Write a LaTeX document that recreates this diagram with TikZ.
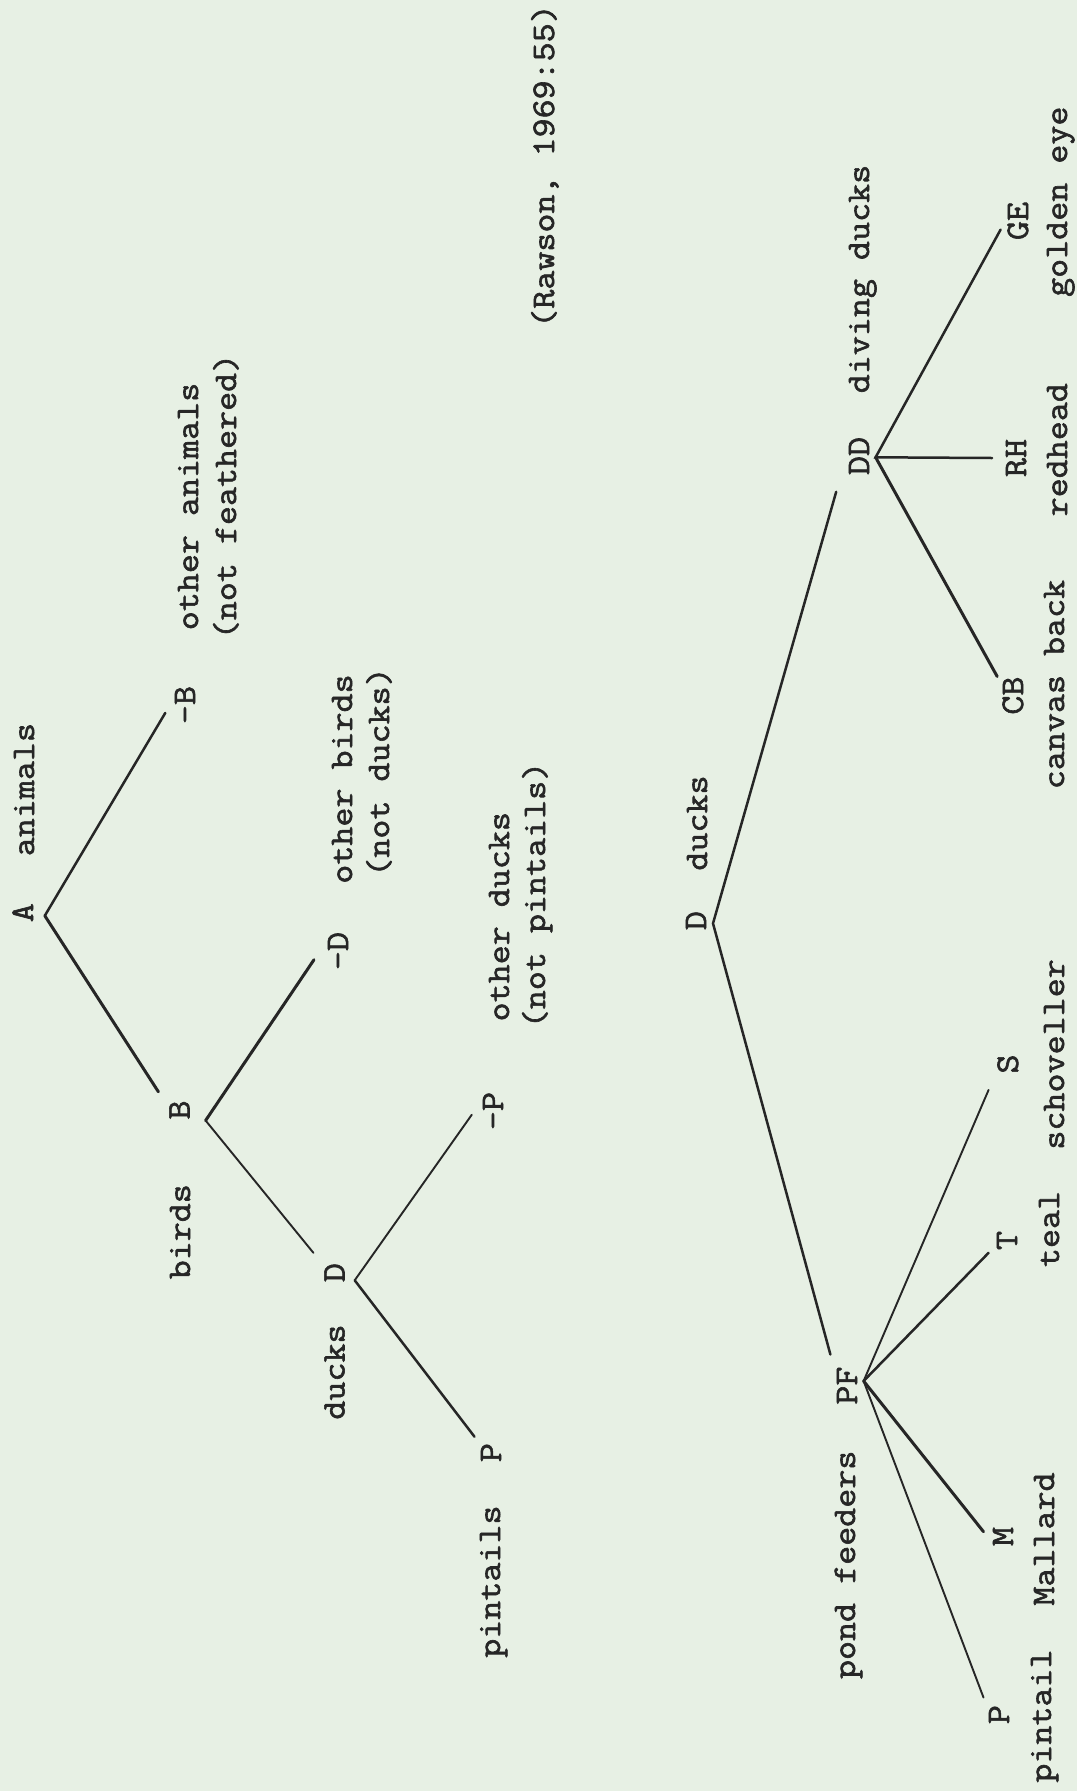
\documentclass[tikz,border=0pt]{standalone}
\usepackage{fontspec}
\setmonofont{Latin Modern Mono}[FakeBold=1.8,FakeStretch=1.12]
\begin{document}
\definecolor{paper}{RGB}{231,240,228}
\definecolor{ink}{RGB}{38,38,38}
\begin{tikzpicture}[x=1pt,y=-1pt,
  lbl/.style={rotate=90,anchor=base,inner sep=0pt,text=ink,font=\ttfamily\fontsize{33}{36}\selectfont},
  branch/.style={draw=ink,line width=2.5pt,line cap=round},
  thinbranch/.style={draw=ink,line width=1.9pt,line cap=round},
  thickbranch/.style={draw=ink,line width=3.0pt,line cap=round}]
\fill[paper] (0,0) rectangle (1077,1791);
\useasboundingbox (0,0) rectangle (1077,1791);

% ---- first tree: animals / birds / ducks / pintails ----
\coordinate (vA) at (44.8,915.7);
\coordinate (eAnB) at (165.3,712.9);
\coordinate (eAB) at (158.4,1091.8);
\coordinate (vB) at (205.6,1120.5);
\coordinate (eBnD) at (314,959.7);
\coordinate (eBD) at (313.4,1252.8);
\coordinate (vD) at (354.7,1280.3);
\coordinate (eDnP) at (471.8,1114.7);
\coordinate (eDP) at (474.5,1436.7);

\node[lbl] (lA) at (33,912.7) {A};
\node[lbl] (lAnimals) at (34,789.6) {animals};
\node[lbl] (lnB) at (195,705) {-B};
\node[lbl] (lOtherAnimals) at (198,506.5) {other animals};
\node[lbl] (lNotFeathered) at (236,496.5) {(not feathered)};
\node[lbl] (lB) at (189.5,1110) {B};
\node[lbl] (lBirds) at (190,1231.7) {birds};
\node[lbl] (lnD) at (348,951) {-D};
\node[lbl] (lOtherBirds) at (352,779) {other birds};
\node[lbl] (lNotDucks) at (389,772) {(not ducks)};
\node[lbl] (lD) at (344.5,1272.6) {D};
\node[lbl] (lDucks) at (344.5,1372) {ducks};
\node[lbl] (lnP) at (503,1111) {-P};
\node[lbl] (lOtherDucks) at (509,916.7) {other ducks};
\node[lbl] (lNotPintails) at (545,895) {(not pintails)};
\node[lbl] (lP) at (501,1452.6) {P};
\node[lbl] (lPintails) at (500,1581.6) {pintails};

\draw[branch] (eAnB) -- (vA);
\draw[thickbranch] (vA) -- (eAB);
\draw[thickbranch] (eBnD) -- (vB);
\draw[thinbranch] (vB) -- (eBD);
\draw[thinbranch] (eDnP) -- (vD);
\draw[branch] (vD) -- (eDP);

% ---- source ----
\node[lbl] (cite) at (554,166) {(Rawson, 1969:55)};

% ---- second tree: ducks / diving ducks / pond feeders ----
\coordinate (vRD) at (713,923.4);
\coordinate (eDD) at (836.2,491.8);
\coordinate (ePF) at (830.4,1354.5);
\coordinate (vDD) at (875.6,457.3);
\coordinate (eGE) at (1000.6,229.6);
\coordinate (eRH) at (992,458);
\coordinate (eCB) at (997.2,676.5);
\coordinate (vPF) at (863.6,1381);
\coordinate (eS) at (988.6,1089.9);
\coordinate (eT) at (988.6,1252.8);
\coordinate (eM) at (983.5,1531.7);
\coordinate (ePP) at (983.5,1697.5);

\node[lbl] (rD) at (706,920.6) {D};
\node[lbl] (rDucks) at (707,823) {ducks};
\node[lbl] (rDD) at (869,456) {DD};
\node[lbl] (rDiving) at (869,279) {diving ducks};
\node[lbl] (rGE) at (1028,221) {GE};
\node[lbl] (rGolden) at (1067,201.7) {golden eye};
\node[lbl] (rRH) at (1026,458) {RH};
\node[lbl] (rRedhead) at (1067,449.7) {redhead};
\node[lbl] (rCB) at (1023,695.6) {CB};
\node[lbl] (rCanvas) at (1064,684.5) {canvas back};
\node[lbl] (rPF) at (857,1385.6) {PF};
\node[lbl] (rPond) at (855,1564.8) {pond feeders};
\node[lbl] (rS) at (1018,1064) {S};
\node[lbl] (rSchoveller) at (1064,1054.4) {schoveller};
\node[lbl] (rT) at (1017,1240.5) {T};
\node[lbl] (rTeal) at (1059,1229) {teal};
\node[lbl] (rM) at (1013,1536.5) {M};
\node[lbl] (rMallard) at (1054,1539) {Mallard};
\node[lbl] (rP) at (1009,1714.6) {P};
\node[lbl] (rPintail) at (1051,1716) {pintail};

\draw[branch] (eDD) -- (vRD) -- (ePF);
\draw[branch] (eGE) -- (vDD) -- (eRH);
\draw[thickbranch] (vDD) -- (eCB);
\draw[thinbranch] (vPF) -- (eS);
\draw[branch] (vPF) -- (eT);
\draw[thickbranch] (vPF) -- (eM);
\draw[thinbranch] (vPF) -- (ePP);
\end{tikzpicture}
\end{document}
